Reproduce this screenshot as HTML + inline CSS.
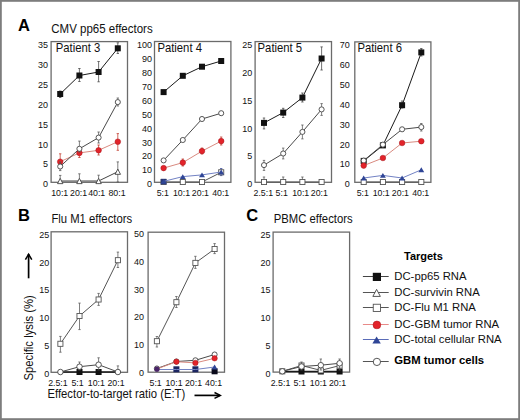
<!DOCTYPE html><html><head><meta charset="utf-8"><style>html,body{margin:0;padding:0;background:#fff;}svg{display:block;}</style></head><body>
<svg width="520" height="420" viewBox="0 0 520 420" font-family='"Liberation Sans", sans-serif'>
<rect x="0" y="0" width="520" height="420" fill="#fff"/>
<rect x="0.9" y="0.9" width="518.2" height="418.2" fill="none" stroke="#7d7d7d" stroke-width="1.8"/>
<text transform="translate(18.00,30.60) scale(1,1.0)" font-size="16.5" text-anchor="start" font-weight="bold" fill="#000" >A</text>
<text transform="translate(51.30,32.60) scale(1,1.06)" font-size="11.5" text-anchor="start" font-weight="normal" fill="#111" >CMV pp65 effectors</text>
<text transform="translate(17.90,221.30) scale(1,1.0)" font-size="16.5" text-anchor="start" font-weight="bold" fill="#000" >B</text>
<text transform="translate(51.40,223.00) scale(1,1.06)" font-size="11.3" text-anchor="start" font-weight="normal" fill="#111" >Flu M1 effectors</text>
<text transform="translate(246.30,221.30) scale(1,1.0)" font-size="16.5" text-anchor="start" font-weight="bold" fill="#000" >C</text>
<text transform="translate(273.80,222.70) scale(1,1.06)" font-size="11.3" text-anchor="start" font-weight="normal" fill="#111" >PBMC effectors</text>
<rect x="51.10" y="41.60" width="76.40" height="140.70" fill="none" stroke="#6b6b6b" stroke-width="1.3"/>
<text transform="translate(48.00,187.30) scale(1,1.09)" font-size="9.0" text-anchor="end" font-weight="normal" fill="#111" >0</text>
<text transform="translate(48.00,167.43) scale(1,1.09)" font-size="9.0" text-anchor="end" font-weight="normal" fill="#111" >5</text>
<text transform="translate(48.00,147.56) scale(1,1.09)" font-size="9.0" text-anchor="end" font-weight="normal" fill="#111" >10</text>
<text transform="translate(48.00,127.69) scale(1,1.09)" font-size="9.0" text-anchor="end" font-weight="normal" fill="#111" >15</text>
<text transform="translate(48.00,107.81) scale(1,1.09)" font-size="9.0" text-anchor="end" font-weight="normal" fill="#111" >20</text>
<text transform="translate(48.00,87.94) scale(1,1.09)" font-size="9.0" text-anchor="end" font-weight="normal" fill="#111" >25</text>
<text transform="translate(48.00,68.07) scale(1,1.09)" font-size="9.0" text-anchor="end" font-weight="normal" fill="#111" >30</text>
<text transform="translate(48.00,48.20) scale(1,1.09)" font-size="9.0" text-anchor="end" font-weight="normal" fill="#111" >35</text>
<text transform="translate(55.70,51.90) scale(1,1.06)" font-size="11.3" text-anchor="start" font-weight="normal" fill="#111" >Patient 3</text>
<text transform="translate(59.70,196.00) scale(1,1.06)" font-size="8.8" text-anchor="middle" font-weight="normal" fill="#111" >10:1</text>
<text transform="translate(78.60,196.00) scale(1,1.06)" font-size="8.8" text-anchor="middle" font-weight="normal" fill="#111" >20:1</text>
<text transform="translate(96.70,196.00) scale(1,1.06)" font-size="8.8" text-anchor="middle" font-weight="normal" fill="#111" >40:1</text>
<text transform="translate(117.00,196.00) scale(1,1.06)" font-size="8.8" text-anchor="middle" font-weight="normal" fill="#111" >80:1</text>
<rect x="154.50" y="41.50" width="76.40" height="140.80" fill="none" stroke="#6b6b6b" stroke-width="1.3"/>
<text transform="translate(152.00,187.30) scale(1,1.09)" font-size="9.0" text-anchor="end" font-weight="normal" fill="#111" >0</text>
<text transform="translate(152.00,173.39) scale(1,1.09)" font-size="9.0" text-anchor="end" font-weight="normal" fill="#111" >10</text>
<text transform="translate(152.00,159.48) scale(1,1.09)" font-size="9.0" text-anchor="end" font-weight="normal" fill="#111" >20</text>
<text transform="translate(152.00,145.57) scale(1,1.09)" font-size="9.0" text-anchor="end" font-weight="normal" fill="#111" >30</text>
<text transform="translate(152.00,131.66) scale(1,1.09)" font-size="9.0" text-anchor="end" font-weight="normal" fill="#111" >40</text>
<text transform="translate(152.00,117.75) scale(1,1.09)" font-size="9.0" text-anchor="end" font-weight="normal" fill="#111" >50</text>
<text transform="translate(152.00,103.84) scale(1,1.09)" font-size="9.0" text-anchor="end" font-weight="normal" fill="#111" >60</text>
<text transform="translate(152.00,89.93) scale(1,1.09)" font-size="9.0" text-anchor="end" font-weight="normal" fill="#111" >70</text>
<text transform="translate(152.00,76.02) scale(1,1.09)" font-size="9.0" text-anchor="end" font-weight="normal" fill="#111" >80</text>
<text transform="translate(152.00,62.11) scale(1,1.09)" font-size="9.0" text-anchor="end" font-weight="normal" fill="#111" >90</text>
<text transform="translate(152.00,48.20) scale(1,1.09)" font-size="9.0" text-anchor="end" font-weight="normal" fill="#111" >100</text>
<text transform="translate(157.40,51.90) scale(1,1.06)" font-size="11.3" text-anchor="start" font-weight="normal" fill="#111" >Patient 4</text>
<text transform="translate(162.80,196.00) scale(1,1.06)" font-size="8.8" text-anchor="middle" font-weight="normal" fill="#111" >5:1</text>
<text transform="translate(181.50,196.00) scale(1,1.06)" font-size="8.8" text-anchor="middle" font-weight="normal" fill="#111" >10:1</text>
<text transform="translate(200.40,196.00) scale(1,1.06)" font-size="8.8" text-anchor="middle" font-weight="normal" fill="#111" >20:1</text>
<text transform="translate(220.70,196.00) scale(1,1.06)" font-size="8.8" text-anchor="middle" font-weight="normal" fill="#111" >40:1</text>
<rect x="255.10" y="41.60" width="76.40" height="140.70" fill="none" stroke="#6b6b6b" stroke-width="1.3"/>
<text transform="translate(252.30,187.30) scale(1,1.09)" font-size="9.0" text-anchor="end" font-weight="normal" fill="#111" >0</text>
<text transform="translate(252.30,159.48) scale(1,1.09)" font-size="9.0" text-anchor="end" font-weight="normal" fill="#111" >5</text>
<text transform="translate(252.30,131.66) scale(1,1.09)" font-size="9.0" text-anchor="end" font-weight="normal" fill="#111" >10</text>
<text transform="translate(252.30,103.84) scale(1,1.09)" font-size="9.0" text-anchor="end" font-weight="normal" fill="#111" >15</text>
<text transform="translate(252.30,76.02) scale(1,1.09)" font-size="9.0" text-anchor="end" font-weight="normal" fill="#111" >20</text>
<text transform="translate(252.30,48.20) scale(1,1.09)" font-size="9.0" text-anchor="end" font-weight="normal" fill="#111" >25</text>
<text transform="translate(257.60,51.90) scale(1,1.06)" font-size="11.3" text-anchor="start" font-weight="normal" fill="#111" >Patient 5</text>
<text transform="translate(263.30,196.00) scale(1,1.06)" font-size="8.8" text-anchor="middle" font-weight="normal" fill="#111" >2.5:1</text>
<text transform="translate(281.70,196.00) scale(1,1.06)" font-size="8.8" text-anchor="middle" font-weight="normal" fill="#111" >5:1</text>
<text transform="translate(300.70,196.00) scale(1,1.06)" font-size="8.8" text-anchor="middle" font-weight="normal" fill="#111" >10:1</text>
<text transform="translate(319.30,196.00) scale(1,1.06)" font-size="8.8" text-anchor="middle" font-weight="normal" fill="#111" >20:1</text>
<rect x="354.80" y="41.90" width="76.10" height="140.40" fill="none" stroke="#6b6b6b" stroke-width="1.3"/>
<text transform="translate(349.70,187.30) scale(1,1.09)" font-size="9.0" text-anchor="end" font-weight="normal" fill="#111" >0</text>
<text transform="translate(349.70,167.43) scale(1,1.09)" font-size="9.0" text-anchor="end" font-weight="normal" fill="#111" >10</text>
<text transform="translate(349.70,147.56) scale(1,1.09)" font-size="9.0" text-anchor="end" font-weight="normal" fill="#111" >20</text>
<text transform="translate(349.70,127.69) scale(1,1.09)" font-size="9.0" text-anchor="end" font-weight="normal" fill="#111" >30</text>
<text transform="translate(349.70,107.81) scale(1,1.09)" font-size="9.0" text-anchor="end" font-weight="normal" fill="#111" >40</text>
<text transform="translate(349.70,87.94) scale(1,1.09)" font-size="9.0" text-anchor="end" font-weight="normal" fill="#111" >50</text>
<text transform="translate(349.70,68.07) scale(1,1.09)" font-size="9.0" text-anchor="end" font-weight="normal" fill="#111" >60</text>
<text transform="translate(349.70,48.20) scale(1,1.09)" font-size="9.0" text-anchor="end" font-weight="normal" fill="#111" >70</text>
<text transform="translate(357.40,51.90) scale(1,1.06)" font-size="11.3" text-anchor="start" font-weight="normal" fill="#111" >Patient 6</text>
<text transform="translate(362.80,196.00) scale(1,1.06)" font-size="8.8" text-anchor="middle" font-weight="normal" fill="#111" >5:1</text>
<text transform="translate(381.20,196.00) scale(1,1.06)" font-size="8.8" text-anchor="middle" font-weight="normal" fill="#111" >10:1</text>
<text transform="translate(400.40,196.00) scale(1,1.06)" font-size="8.8" text-anchor="middle" font-weight="normal" fill="#111" >20:1</text>
<text transform="translate(420.70,196.00) scale(1,1.06)" font-size="8.8" text-anchor="middle" font-weight="normal" fill="#111" >40:1</text>
<polyline points="60.20,181.00 79.40,181.00 98.60,181.00 117.80,171.70" fill="none" stroke="#444" stroke-width="1.0"/>
<path d="M60.20,175.40V182.00M59.00,175.40H61.40M59.00,182.00H61.40" stroke="#555" stroke-width="0.75" fill="none"/>
<path d="M79.40,173.80V182.00M78.20,173.80H80.60M78.20,182.00H80.60" stroke="#555" stroke-width="0.75" fill="none"/>
<path d="M98.60,175.20V182.00M97.40,175.20H99.80M97.40,182.00H99.80" stroke="#555" stroke-width="0.75" fill="none"/>
<path d="M117.80,161.90V182.00M116.60,161.90H119.00M116.60,182.00H119.00" stroke="#555" stroke-width="0.75" fill="none"/>
<polygon points="60.20,178.36 62.90,183.64 57.50,183.64" fill="#fff" stroke="#444" stroke-width="0.9" stroke-linejoin="round"/>
<polygon points="79.40,178.36 82.10,183.64 76.70,183.64" fill="#fff" stroke="#444" stroke-width="0.9" stroke-linejoin="round"/>
<polygon points="98.60,178.36 101.30,183.64 95.90,183.64" fill="#fff" stroke="#444" stroke-width="0.9" stroke-linejoin="round"/>
<polygon points="117.80,169.06 120.50,174.34 115.10,174.34" fill="#fff" stroke="#444" stroke-width="0.9" stroke-linejoin="round"/>
<polyline points="60.20,161.70 79.40,152.90 98.60,150.30 117.80,141.70" fill="none" stroke="#d98a80" stroke-width="1.0"/>
<path d="M60.20,153.80V168.00M59.00,153.80H61.40M59.00,168.00H61.40" stroke="#c0392b" stroke-width="0.75" fill="none"/>
<path d="M79.40,148.00V157.50M78.20,148.00H80.60M78.20,157.50H80.60" stroke="#c0392b" stroke-width="0.75" fill="none"/>
<path d="M98.60,145.00V155.00M97.40,145.00H99.80M97.40,155.00H99.80" stroke="#c0392b" stroke-width="0.75" fill="none"/>
<path d="M117.80,133.60V150.30M116.60,133.60H119.00M116.60,150.30H119.00" stroke="#c0392b" stroke-width="0.75" fill="none"/>
<circle cx="60.20" cy="161.70" r="2.80" fill="#e3232a" stroke="#a5161c" stroke-width="0.5"/>
<circle cx="79.40" cy="152.90" r="2.80" fill="#e3232a" stroke="#a5161c" stroke-width="0.5"/>
<circle cx="98.60" cy="150.30" r="2.80" fill="#e3232a" stroke="#a5161c" stroke-width="0.5"/>
<circle cx="117.80" cy="141.70" r="2.80" fill="#e3232a" stroke="#a5161c" stroke-width="0.5"/>
<polyline points="60.20,166.50 79.40,148.80 98.60,137.60 117.80,102.10" fill="none" stroke="#4a4a4a" stroke-width="1.0"/>
<path d="M60.20,162.00V170.60M59.00,162.00H61.40M59.00,170.60H61.40" stroke="#555" stroke-width="0.75" fill="none"/>
<path d="M79.40,141.10V152.00M78.20,141.10H80.60M78.20,152.00H80.60" stroke="#555" stroke-width="0.75" fill="none"/>
<path d="M98.60,132.00V143.00M97.40,132.00H99.80M97.40,143.00H99.80" stroke="#555" stroke-width="0.75" fill="none"/>
<path d="M117.80,98.00V106.00M116.60,98.00H119.00M116.60,106.00H119.00" stroke="#555" stroke-width="0.75" fill="none"/>
<circle cx="60.20" cy="166.50" r="2.55" fill="#fff" stroke="#444" stroke-width="0.9"/>
<circle cx="79.40" cy="148.80" r="2.55" fill="#fff" stroke="#444" stroke-width="0.9"/>
<circle cx="98.60" cy="137.60" r="2.55" fill="#fff" stroke="#444" stroke-width="0.9"/>
<circle cx="117.80" cy="102.10" r="2.55" fill="#fff" stroke="#444" stroke-width="0.9"/>
<polyline points="60.20,94.00 79.40,75.50 98.60,72.00 117.80,48.30" fill="none" stroke="#1a1a1a" stroke-width="1.0"/>
<path d="M60.20,91.00V97.50M59.00,91.00H61.40M59.00,97.50H61.40" stroke="#444" stroke-width="0.75" fill="none"/>
<path d="M79.40,68.50V81.50M78.20,68.50H80.60M78.20,81.50H80.60" stroke="#444" stroke-width="0.75" fill="none"/>
<path d="M98.60,61.50V81.80M97.40,61.50H99.80M97.40,81.80H99.80" stroke="#444" stroke-width="0.75" fill="none"/>
<path d="M117.80,42.80V53.50M116.60,42.80H119.00M116.60,53.50H119.00" stroke="#444" stroke-width="0.75" fill="none"/>
<rect x="57.20" y="91.00" width="6.00" height="6.00" fill="#111"/>
<rect x="76.40" y="72.50" width="6.00" height="6.00" fill="#111"/>
<rect x="95.60" y="69.00" width="6.00" height="6.00" fill="#111"/>
<rect x="114.80" y="45.30" width="6.00" height="6.00" fill="#111"/>
<polyline points="163.60,182.00 182.80,182.00 202.00,182.00 221.20,172.30" fill="none" stroke="#555" stroke-width="1.0"/>
<path d="M221.20,168.50V175.60M220.00,168.50H222.40M220.00,175.60H222.40" stroke="#3a4a9a" stroke-width="0.75" fill="none"/>
<rect x="161.05" y="179.45" width="5.10" height="5.10" fill="#fff" stroke="#555" stroke-width="0.9"/>
<rect x="180.25" y="179.45" width="5.10" height="5.10" fill="#fff" stroke="#555" stroke-width="0.9"/>
<rect x="199.45" y="179.45" width="5.10" height="5.10" fill="#fff" stroke="#555" stroke-width="0.9"/>
<rect x="218.65" y="169.75" width="5.10" height="5.10" fill="#fff" stroke="#555" stroke-width="0.9"/>
<rect x="160.80" y="178.80" width="5.60" height="5.60" fill="#2a3775"/>
<polyline points="163.60,181.40 182.80,176.60 202.00,174.90 221.20,172.00" fill="none" stroke="#7282c4" stroke-width="1.0"/>
<polygon points="163.60,178.94 166.54,183.86 160.66,183.86" fill="#2f4596"/>
<polygon points="182.80,174.14 185.74,179.06 179.86,179.06" fill="#2f4596"/>
<polygon points="202.00,172.44 204.94,177.36 199.06,177.36" fill="#2f4596"/>
<polygon points="221.20,169.54 224.14,174.46 218.26,174.46" fill="#2f4596"/>
<polyline points="163.60,160.40 182.80,140.00 202.00,119.00 221.20,113.20" fill="none" stroke="#4a4a4a" stroke-width="1.0"/>
<circle cx="163.60" cy="160.40" r="2.55" fill="#fff" stroke="#444" stroke-width="0.9"/>
<circle cx="182.80" cy="140.00" r="2.55" fill="#fff" stroke="#444" stroke-width="0.9"/>
<circle cx="202.00" cy="119.00" r="2.55" fill="#fff" stroke="#444" stroke-width="0.9"/>
<circle cx="221.20" cy="113.20" r="2.55" fill="#fff" stroke="#444" stroke-width="0.9"/>
<polyline points="163.60,168.10 182.80,162.60 202.00,151.10 221.20,141.10" fill="none" stroke="#d98a80" stroke-width="1.0"/>
<path d="M182.80,159.00V166.00M181.60,159.00H184.00M181.60,166.00H184.00" stroke="#c0392b" stroke-width="0.75" fill="none"/>
<path d="M202.00,148.00V154.00M200.80,148.00H203.20M200.80,154.00H203.20" stroke="#c0392b" stroke-width="0.75" fill="none"/>
<path d="M221.20,137.00V145.00M220.00,137.00H222.40M220.00,145.00H222.40" stroke="#c0392b" stroke-width="0.75" fill="none"/>
<circle cx="163.60" cy="168.10" r="2.80" fill="#e3232a" stroke="#a5161c" stroke-width="0.5"/>
<circle cx="182.80" cy="162.60" r="2.80" fill="#e3232a" stroke="#a5161c" stroke-width="0.5"/>
<circle cx="202.00" cy="151.10" r="2.80" fill="#e3232a" stroke="#a5161c" stroke-width="0.5"/>
<circle cx="221.20" cy="141.10" r="2.80" fill="#e3232a" stroke="#a5161c" stroke-width="0.5"/>
<polyline points="163.60,92.10 182.80,75.80 202.00,66.70 221.20,61.00" fill="none" stroke="#1a1a1a" stroke-width="1.0"/>
<rect x="160.60" y="89.10" width="6.00" height="6.00" fill="#111"/>
<rect x="179.80" y="72.80" width="6.00" height="6.00" fill="#111"/>
<rect x="199.00" y="63.70" width="6.00" height="6.00" fill="#111"/>
<rect x="218.20" y="58.00" width="6.00" height="6.00" fill="#111"/>
<polyline points="264.00,182.00 283.20,182.00 302.40,182.00 321.60,182.00" fill="none" stroke="#555" stroke-width="1.0"/>
<path d="M264.00,177.00V182.00M262.80,177.00H265.20M262.80,182.00H265.20" stroke="#555" stroke-width="0.75" fill="none"/>
<path d="M283.20,177.00V182.00M282.00,177.00H284.40M282.00,182.00H284.40" stroke="#555" stroke-width="0.75" fill="none"/>
<path d="M302.40,177.00V182.00M301.20,177.00H303.60M301.20,182.00H303.60" stroke="#555" stroke-width="0.75" fill="none"/>
<rect x="261.45" y="179.45" width="5.10" height="5.10" fill="#fff" stroke="#555" stroke-width="0.9"/>
<rect x="280.65" y="179.45" width="5.10" height="5.10" fill="#fff" stroke="#555" stroke-width="0.9"/>
<rect x="299.85" y="179.45" width="5.10" height="5.10" fill="#fff" stroke="#555" stroke-width="0.9"/>
<rect x="319.05" y="179.45" width="5.10" height="5.10" fill="#fff" stroke="#555" stroke-width="0.9"/>
<polyline points="264.00,165.10 283.20,153.50 302.40,131.90 321.60,109.40" fill="none" stroke="#4a4a4a" stroke-width="1.0"/>
<path d="M264.00,160.40V170.40M262.80,160.40H265.20M262.80,170.40H265.20" stroke="#555" stroke-width="0.75" fill="none"/>
<path d="M283.20,148.10V158.90M282.00,148.10H284.40M282.00,158.90H284.40" stroke="#555" stroke-width="0.75" fill="none"/>
<path d="M302.40,125.00V138.90M301.20,125.00H303.60M301.20,138.90H303.60" stroke="#555" stroke-width="0.75" fill="none"/>
<path d="M321.60,103.60V115.40M320.40,103.60H322.80M320.40,115.40H322.80" stroke="#555" stroke-width="0.75" fill="none"/>
<circle cx="264.00" cy="165.10" r="2.55" fill="#fff" stroke="#444" stroke-width="0.9"/>
<circle cx="283.20" cy="153.50" r="2.55" fill="#fff" stroke="#444" stroke-width="0.9"/>
<circle cx="302.40" cy="131.90" r="2.55" fill="#fff" stroke="#444" stroke-width="0.9"/>
<circle cx="321.60" cy="109.40" r="2.55" fill="#fff" stroke="#444" stroke-width="0.9"/>
<polyline points="264.00,122.90 283.20,112.60 302.40,97.60 321.60,58.50" fill="none" stroke="#1a1a1a" stroke-width="1.0"/>
<path d="M264.00,118.00V128.90M262.80,118.00H265.20M262.80,128.90H265.20" stroke="#444" stroke-width="0.75" fill="none"/>
<path d="M283.20,108.30V117.50M282.00,108.30H284.40M282.00,117.50H284.40" stroke="#444" stroke-width="0.75" fill="none"/>
<path d="M302.40,93.00V102.00M301.20,93.00H303.60M301.20,102.00H303.60" stroke="#444" stroke-width="0.75" fill="none"/>
<path d="M321.60,46.90V70.00M320.40,46.90H322.80M320.40,70.00H322.80" stroke="#444" stroke-width="0.75" fill="none"/>
<rect x="261.00" y="119.90" width="6.00" height="6.00" fill="#111"/>
<rect x="280.20" y="109.60" width="6.00" height="6.00" fill="#111"/>
<rect x="299.40" y="94.60" width="6.00" height="6.00" fill="#111"/>
<rect x="318.60" y="55.50" width="6.00" height="6.00" fill="#111"/>
<polyline points="363.70,182.00 382.90,182.00 402.10,182.00 421.30,182.00" fill="none" stroke="#555" stroke-width="1.0"/>
<rect x="361.15" y="179.45" width="5.10" height="5.10" fill="#fff" stroke="#555" stroke-width="0.9"/>
<rect x="380.35" y="179.45" width="5.10" height="5.10" fill="#fff" stroke="#555" stroke-width="0.9"/>
<rect x="399.55" y="179.45" width="5.10" height="5.10" fill="#fff" stroke="#555" stroke-width="0.9"/>
<rect x="418.75" y="179.45" width="5.10" height="5.10" fill="#fff" stroke="#555" stroke-width="0.9"/>
<polyline points="363.70,178.00 382.90,175.40 402.10,178.00 421.30,169.80" fill="none" stroke="#7282c4" stroke-width="1.0"/>
<polygon points="363.70,175.54 366.64,180.46 360.76,180.46" fill="#2f4596"/>
<polygon points="382.90,172.94 385.84,177.86 379.96,177.86" fill="#2f4596"/>
<polygon points="402.10,175.54 405.04,180.46 399.16,180.46" fill="#2f4596"/>
<polygon points="421.30,167.34 424.24,172.26 418.36,172.26" fill="#2f4596"/>
<polyline points="363.70,160.90 382.90,145.40 402.10,105.20 421.30,52.40" fill="none" stroke="#1a1a1a" stroke-width="1.0"/>
<path d="M402.10,101.00V108.00M400.90,101.00H403.30M400.90,108.00H403.30" stroke="#444" stroke-width="0.75" fill="none"/>
<path d="M421.30,48.50V56.00M420.10,48.50H422.50M420.10,56.00H422.50" stroke="#444" stroke-width="0.75" fill="none"/>
<rect x="360.70" y="157.90" width="6.00" height="6.00" fill="#111"/>
<rect x="379.90" y="142.40" width="6.00" height="6.00" fill="#111"/>
<rect x="399.10" y="102.20" width="6.00" height="6.00" fill="#111"/>
<rect x="418.30" y="49.40" width="6.00" height="6.00" fill="#111"/>
<polyline points="363.70,160.60 382.90,144.60 402.10,129.30 421.30,127.10" fill="none" stroke="#4a4a4a" stroke-width="1.0"/>
<path d="M421.30,123.50V131.00M420.10,123.50H422.50M420.10,131.00H422.50" stroke="#555" stroke-width="0.75" fill="none"/>
<circle cx="363.70" cy="160.60" r="2.55" fill="#fff" stroke="#444" stroke-width="0.9"/>
<circle cx="382.90" cy="144.60" r="2.55" fill="#fff" stroke="#444" stroke-width="0.9"/>
<circle cx="402.10" cy="129.30" r="2.55" fill="#fff" stroke="#444" stroke-width="0.9"/>
<circle cx="421.30" cy="127.10" r="2.55" fill="#fff" stroke="#444" stroke-width="0.9"/>
<polyline points="363.70,165.60 382.90,158.00 402.10,143.00 421.30,141.20" fill="none" stroke="#d98a80" stroke-width="1.0"/>
<circle cx="363.70" cy="165.60" r="2.80" fill="#e3232a" stroke="#a5161c" stroke-width="0.5"/>
<circle cx="382.90" cy="158.00" r="2.80" fill="#e3232a" stroke="#a5161c" stroke-width="0.5"/>
<circle cx="402.10" cy="143.00" r="2.80" fill="#e3232a" stroke="#a5161c" stroke-width="0.5"/>
<circle cx="421.30" cy="141.20" r="2.80" fill="#e3232a" stroke="#a5161c" stroke-width="0.5"/>
<rect x="51.10" y="231.80" width="76.40" height="140.50" fill="none" stroke="#6b6b6b" stroke-width="1.3"/>
<text transform="translate(49.30,377.10) scale(1,1.09)" font-size="9.0" text-anchor="end" font-weight="normal" fill="#111" >0</text>
<text transform="translate(49.30,349.20) scale(1,1.09)" font-size="9.0" text-anchor="end" font-weight="normal" fill="#111" >5</text>
<text transform="translate(49.30,321.30) scale(1,1.09)" font-size="9.0" text-anchor="end" font-weight="normal" fill="#111" >10</text>
<text transform="translate(49.30,293.40) scale(1,1.09)" font-size="9.0" text-anchor="end" font-weight="normal" fill="#111" >15</text>
<text transform="translate(49.30,265.50) scale(1,1.09)" font-size="9.0" text-anchor="end" font-weight="normal" fill="#111" >20</text>
<text transform="translate(49.30,237.60) scale(1,1.09)" font-size="9.0" text-anchor="end" font-weight="normal" fill="#111" >25</text>
<text transform="translate(57.90,386.10) scale(1,1.06)" font-size="8.8" text-anchor="middle" font-weight="normal" fill="#111" >2.5:1</text>
<text transform="translate(77.50,386.10) scale(1,1.06)" font-size="8.8" text-anchor="middle" font-weight="normal" fill="#111" >5:1</text>
<text transform="translate(96.30,386.10) scale(1,1.06)" font-size="8.8" text-anchor="middle" font-weight="normal" fill="#111" >10:1</text>
<text transform="translate(116.00,386.10) scale(1,1.06)" font-size="8.8" text-anchor="middle" font-weight="normal" fill="#111" >20:1</text>
<rect x="148.10" y="232.20" width="76.40" height="140.00" fill="none" stroke="#6b6b6b" stroke-width="1.3"/>
<text transform="translate(144.10,376.20) scale(1,1.09)" font-size="9.0" text-anchor="end" font-weight="normal" fill="#111" >0</text>
<text transform="translate(144.10,348.30) scale(1,1.09)" font-size="9.0" text-anchor="end" font-weight="normal" fill="#111" >10</text>
<text transform="translate(144.10,320.40) scale(1,1.09)" font-size="9.0" text-anchor="end" font-weight="normal" fill="#111" >20</text>
<text transform="translate(144.10,292.50) scale(1,1.09)" font-size="9.0" text-anchor="end" font-weight="normal" fill="#111" >30</text>
<text transform="translate(144.10,264.60) scale(1,1.09)" font-size="9.0" text-anchor="end" font-weight="normal" fill="#111" >40</text>
<text transform="translate(144.10,236.70) scale(1,1.09)" font-size="9.0" text-anchor="end" font-weight="normal" fill="#111" >50</text>
<text transform="translate(155.60,386.10) scale(1,1.06)" font-size="8.8" text-anchor="middle" font-weight="normal" fill="#111" >5:1</text>
<text transform="translate(174.00,386.10) scale(1,1.06)" font-size="8.8" text-anchor="middle" font-weight="normal" fill="#111" >10:1</text>
<text transform="translate(193.50,386.10) scale(1,1.06)" font-size="8.8" text-anchor="middle" font-weight="normal" fill="#111" >20:1</text>
<text transform="translate(213.60,386.10) scale(1,1.06)" font-size="8.8" text-anchor="middle" font-weight="normal" fill="#111" >40:1</text>
<rect x="273.10" y="232.10" width="76.50" height="140.00" fill="none" stroke="#6b6b6b" stroke-width="1.3"/>
<text transform="translate(270.50,377.10) scale(1,1.09)" font-size="9.0" text-anchor="end" font-weight="normal" fill="#111" >0</text>
<text transform="translate(270.50,349.20) scale(1,1.09)" font-size="9.0" text-anchor="end" font-weight="normal" fill="#111" >5</text>
<text transform="translate(270.50,321.30) scale(1,1.09)" font-size="9.0" text-anchor="end" font-weight="normal" fill="#111" >10</text>
<text transform="translate(270.50,293.40) scale(1,1.09)" font-size="9.0" text-anchor="end" font-weight="normal" fill="#111" >15</text>
<text transform="translate(270.50,265.50) scale(1,1.09)" font-size="9.0" text-anchor="end" font-weight="normal" fill="#111" >20</text>
<text transform="translate(270.50,237.60) scale(1,1.09)" font-size="9.0" text-anchor="end" font-weight="normal" fill="#111" >25</text>
<text transform="translate(280.50,386.10) scale(1,1.06)" font-size="8.8" text-anchor="middle" font-weight="normal" fill="#111" >2.5:1</text>
<text transform="translate(299.70,386.10) scale(1,1.06)" font-size="8.8" text-anchor="middle" font-weight="normal" fill="#111" >5:1</text>
<text transform="translate(318.40,386.10) scale(1,1.06)" font-size="8.8" text-anchor="middle" font-weight="normal" fill="#111" >10:1</text>
<text transform="translate(337.50,386.10) scale(1,1.06)" font-size="8.8" text-anchor="middle" font-weight="normal" fill="#111" >20:1</text>
<polyline points="60.40,372.00 79.50,372.00 98.60,372.00 117.90,372.00" fill="none" stroke="#1a1a1a" stroke-width="1.6"/>
<rect x="76.50" y="369.00" width="6.00" height="6.00" fill="#111"/>
<rect x="95.60" y="369.00" width="6.00" height="6.00" fill="#111"/>
<polyline points="60.40,372.00 79.50,366.70 98.60,364.70 117.90,372.00" fill="none" stroke="#4a4a4a" stroke-width="1.0"/>
<path d="M79.50,362.00V370.00M78.30,362.00H80.70M78.30,370.00H80.70" stroke="#555" stroke-width="0.75" fill="none"/>
<path d="M98.60,357.80V370.00M97.40,357.80H99.80M97.40,370.00H99.80" stroke="#555" stroke-width="0.75" fill="none"/>
<path d="M117.90,365.90V372.00M116.70,365.90H119.10M116.70,372.00H119.10" stroke="#555" stroke-width="0.75" fill="none"/>
<circle cx="60.40" cy="372.00" r="2.75" fill="#fff" stroke="#444" stroke-width="0.9"/>
<circle cx="79.50" cy="366.70" r="2.75" fill="#fff" stroke="#444" stroke-width="0.9"/>
<circle cx="98.60" cy="364.70" r="2.75" fill="#fff" stroke="#444" stroke-width="0.9"/>
<circle cx="117.90" cy="372.00" r="2.75" fill="#fff" stroke="#444" stroke-width="0.9"/>
<polyline points="60.40,343.80 79.50,316.00 98.60,299.50 117.90,260.20" fill="none" stroke="#555" stroke-width="1.0"/>
<path d="M60.40,336.40V352.20M59.20,336.40H61.60M59.20,352.20H61.60" stroke="#555" stroke-width="0.75" fill="none"/>
<path d="M79.50,303.10V329.60M78.30,303.10H80.70M78.30,329.60H80.70" stroke="#555" stroke-width="0.75" fill="none"/>
<path d="M98.60,293.40V305.40M97.40,293.40H99.80M97.40,305.40H99.80" stroke="#555" stroke-width="0.75" fill="none"/>
<path d="M117.90,252.10V267.50M116.70,252.10H119.10M116.70,267.50H119.10" stroke="#555" stroke-width="0.75" fill="none"/>
<rect x="57.85" y="341.25" width="5.10" height="5.10" fill="#fff" stroke="#555" stroke-width="0.9"/>
<rect x="76.95" y="313.45" width="5.10" height="5.10" fill="#fff" stroke="#555" stroke-width="0.9"/>
<rect x="96.05" y="296.95" width="5.10" height="5.10" fill="#fff" stroke="#555" stroke-width="0.9"/>
<rect x="115.35" y="257.65" width="5.10" height="5.10" fill="#fff" stroke="#555" stroke-width="0.9"/>
<rect x="173.40" y="366.30" width="6.00" height="6.00" fill="#1c2662"/>
<rect x="192.40" y="366.30" width="6.00" height="6.00" fill="#1c2662"/>
<rect x="211.60" y="368.30" width="6.00" height="6.00" fill="#0a0a1a"/>
<polyline points="156.90,369.50 176.40,369.50 195.40,369.50 214.60,367.00" fill="none" stroke="#7282c4" stroke-width="1.0"/>
<polygon points="214.60,364.54 217.54,369.46 211.66,369.46" fill="#2f4596"/>
<polyline points="156.90,368.50 176.40,361.50 195.40,360.30 214.60,354.50" fill="none" stroke="#4a4a4a" stroke-width="1.0"/>
<circle cx="156.90" cy="368.50" r="2.55" fill="#fff" stroke="#444" stroke-width="0.9"/>
<circle cx="176.40" cy="361.50" r="2.55" fill="#fff" stroke="#444" stroke-width="0.9"/>
<circle cx="195.40" cy="360.30" r="2.55" fill="#fff" stroke="#444" stroke-width="0.9"/>
<circle cx="214.60" cy="354.50" r="2.55" fill="#fff" stroke="#444" stroke-width="0.9"/>
<polyline points="156.90,369.00 176.40,361.70 195.40,362.90 214.60,358.30" fill="none" stroke="#d98a80" stroke-width="1.0"/>
<circle cx="176.40" cy="361.70" r="2.70" fill="#e3232a" stroke="#a5161c" stroke-width="0.5"/>
<circle cx="195.40" cy="362.90" r="2.70" fill="#e3232a" stroke="#a5161c" stroke-width="0.5"/>
<circle cx="214.60" cy="358.30" r="2.70" fill="#e3232a" stroke="#a5161c" stroke-width="0.5"/>
<circle cx="156.9" cy="369.2" r="2.6" fill="#4a2468"/>
<polyline points="156.90,341.20 176.40,302.20 195.40,262.90 214.60,249.00" fill="none" stroke="#555" stroke-width="1.0"/>
<path d="M156.90,336.50V347.00M155.70,336.50H158.10M155.70,347.00H158.10" stroke="#555" stroke-width="0.75" fill="none"/>
<path d="M176.40,296.50V307.50M175.20,296.50H177.60M175.20,307.50H177.60" stroke="#555" stroke-width="0.75" fill="none"/>
<path d="M195.40,256.30V268.40M194.20,256.30H196.60M194.20,268.40H196.60" stroke="#555" stroke-width="0.75" fill="none"/>
<path d="M214.60,243.60V253.60M213.40,243.60H215.80M213.40,253.60H215.80" stroke="#555" stroke-width="0.75" fill="none"/>
<rect x="154.35" y="338.65" width="5.10" height="5.10" fill="#fff" stroke="#555" stroke-width="0.9"/>
<rect x="173.85" y="299.65" width="5.10" height="5.10" fill="#fff" stroke="#555" stroke-width="0.9"/>
<rect x="192.85" y="260.35" width="5.10" height="5.10" fill="#fff" stroke="#555" stroke-width="0.9"/>
<rect x="212.05" y="246.45" width="5.10" height="5.10" fill="#fff" stroke="#555" stroke-width="0.9"/>
<polyline points="282.30,371.50 301.50,371.50 320.80,371.50 339.60,371.50" fill="none" stroke="#1a1a1a" stroke-width="1.6"/>
<rect x="298.50" y="368.50" width="6.00" height="6.00" fill="#111"/>
<rect x="317.80" y="368.50" width="6.00" height="6.00" fill="#111"/>
<rect x="336.60" y="368.50" width="6.00" height="6.00" fill="#111"/>
<polyline points="282.30,371.30 301.50,365.50 320.80,370.40 339.60,365.60" fill="none" stroke="#555" stroke-width="1.0"/>
<rect x="279.75" y="368.75" width="5.10" height="5.10" fill="#fff" stroke="#555" stroke-width="0.9"/>
<rect x="298.95" y="362.95" width="5.10" height="5.10" fill="#fff" stroke="#555" stroke-width="0.9"/>
<rect x="318.25" y="367.85" width="5.10" height="5.10" fill="#fff" stroke="#555" stroke-width="0.9"/>
<rect x="337.05" y="363.05" width="5.10" height="5.10" fill="#fff" stroke="#555" stroke-width="0.9"/>
<polyline points="282.30,371.30 301.50,366.50 320.80,365.20 339.60,363.30" fill="none" stroke="#4a4a4a" stroke-width="1.0"/>
<path d="M301.50,362.00V370.00M300.30,362.00H302.70M300.30,370.00H302.70" stroke="#555" stroke-width="0.75" fill="none"/>
<path d="M320.80,359.00V370.00M319.60,359.00H322.00M319.60,370.00H322.00" stroke="#555" stroke-width="0.75" fill="none"/>
<path d="M339.60,359.00V370.00M338.40,359.00H340.80M338.40,370.00H340.80" stroke="#555" stroke-width="0.75" fill="none"/>
<circle cx="282.30" cy="371.30" r="2.75" fill="#fff" stroke="#444" stroke-width="0.9"/>
<circle cx="301.50" cy="366.50" r="2.75" fill="#fff" stroke="#444" stroke-width="0.9"/>
<circle cx="320.80" cy="365.20" r="2.75" fill="#fff" stroke="#444" stroke-width="0.9"/>
<circle cx="339.60" cy="363.30" r="2.75" fill="#fff" stroke="#444" stroke-width="0.9"/>
<text transform="translate(33.3,380.5) rotate(-90) scale(1,1.06)" font-size="11.3" fill="#111">Specific lysis (%)</text>
<line x1="28.6" y1="254" x2="28.6" y2="278.3" stroke="#000" stroke-width="1.7"/>
<polyline points="25.4,259.6 28.6,254.3 31.8,259.6" fill="none" stroke="#000" stroke-width="1.5"/>
<text transform="translate(47.50,397.90) scale(1,1.06)" font-size="11.3" text-anchor="start" font-weight="normal" fill="#111" >Effector-to-target ratio (E:T)</text>
<line x1="194.5" y1="395.4" x2="220" y2="395.4" stroke="#000" stroke-width="1.7"/>
<polyline points="214.5,392.5 220.3,395.4 214.5,398.3" fill="none" stroke="#000" stroke-width="1.5"/>
<text transform="translate(404.00,260.00) scale(1,1.06)" font-size="11" text-anchor="start" font-weight="bold" fill="#000" >Targets</text>
<polyline points="362.90,276.50 388.70,276.50" fill="none" stroke="#444" stroke-width="1.0"/>
<rect x="372.80" y="272.80" width="8.20" height="8.20" fill="#111"/>
<text transform="translate(394.30,280.00) scale(1,1.0)" font-size="11.3" text-anchor="start" font-weight="normal" fill="#111" >DC-pp65 RNA</text>
<polyline points="362.90,292.50 388.70,292.50" fill="none" stroke="#555" stroke-width="1.0"/>
<polygon points="376.60,289.38 380.35,296.42 372.85,296.42" fill="#fff" stroke="#444" stroke-width="0.9" stroke-linejoin="round"/>
<text transform="translate(394.30,295.70) scale(1,1.0)" font-size="11.3" text-anchor="start" font-weight="normal" fill="#111" >DC-survivin RNA</text>
<polyline points="362.90,307.50 388.70,307.50" fill="none" stroke="#555" stroke-width="1.0"/>
<rect x="373.25" y="304.25" width="7.30" height="7.30" fill="#fff" stroke="#555" stroke-width="0.9"/>
<text transform="translate(394.30,311.40) scale(1,1.0)" font-size="11.3" text-anchor="start" font-weight="normal" fill="#111" >DC-Flu M1 RNA</text>
<polyline points="362.90,324.50 388.70,324.50" fill="none" stroke="#e88a88" stroke-width="1.0"/>
<circle cx="376.90" cy="324.90" r="3.90" fill="#e3232a" stroke="#a5161c" stroke-width="0.5"/>
<text transform="translate(394.30,327.70) scale(1,1.0)" font-size="11.3" text-anchor="start" font-weight="normal" fill="#111" >DC-GBM tumor RNA</text>
<polyline points="362.90,339.50 388.70,339.50" fill="none" stroke="#5a6cb8" stroke-width="1.0"/>
<polygon points="376.60,336.38 380.80,343.42 372.40,343.42" fill="#2f4596"/>
<text transform="translate(394.30,343.40) scale(1,1.0)" font-size="11.3" text-anchor="start" font-weight="normal" fill="#111" >DC-total cellular RNA</text>
<polyline points="362.90,361.50 388.70,361.50" fill="none" stroke="#555" stroke-width="1.0"/>
<circle cx="376.90" cy="361.90" r="3.65" fill="#fff" stroke="#444" stroke-width="0.9"/>
<text transform="translate(394.30,363.80) scale(1,1.0)" font-size="11.3" text-anchor="start" font-weight="bold" fill="#000" >GBM tumor cells</text>
</svg></body></html>
